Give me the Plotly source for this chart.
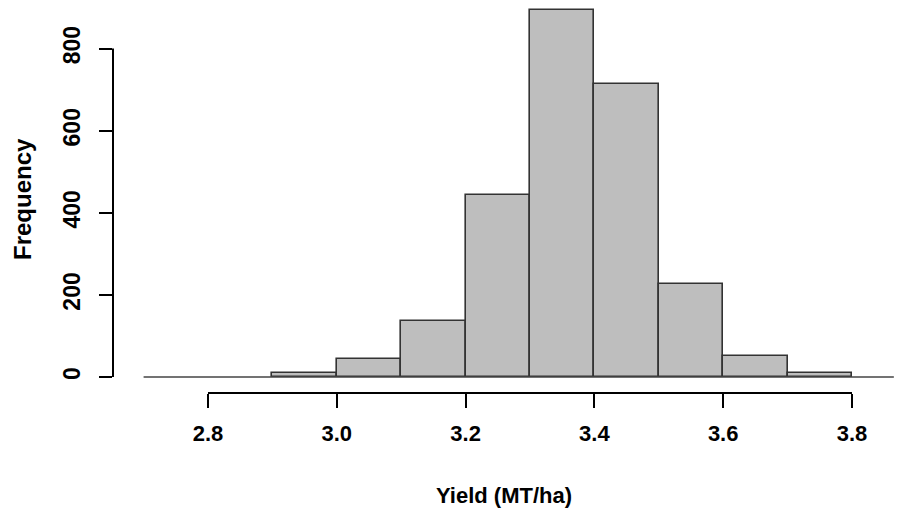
import plotly.graph_objects as go

# Data
bin_edges = [2.9, 3.0, 3.1, 3.2, 3.3, 3.4, 3.5, 3.6, 3.7, 3.8]
counts = [10, 44, 137, 443, 895, 713, 226, 51, 10]
x_ticks = [2.8, 3.0, 3.2, 3.4, 3.6, 3.8]
x_ticklabels = ["2.8", "3.0", "3.2", "3.4", "3.6", "3.8"]
y_ticks = [0, 200, 400, 600, 800]
y_ticklabels = ["0", "200", "400", "600", "800"]
baseline_x = [2.7, 3.865]

mids = [(a + b) / 2 for a, b in zip(bin_edges[:-1], bin_edges[1:])]
widths = [b - a for a, b in zip(bin_edges[:-1], bin_edges[1:])]

font_family = "Arial, Liberation Sans, sans-serif"
FS = 23

fig = go.Figure()
fig.add_trace(go.Bar(
    x=mids, y=counts, width=widths,
    marker=dict(color="#BEBEBE", line=dict(color="#333333", width=1.6)),
    hoverinfo="x+y",
))

shapes = [
    # baseline at 0
    dict(type="line", xref="x", yref="y", x0=baseline_x[0], x1=baseline_x[1], y0=0, y1=0,
         line=dict(color="#444444", width=1.5)),
    # x axis line
    dict(type="line", xref="x", yref="paper", x0=x_ticks[0], x1=x_ticks[-1], y0=0, y1=0,
         line=dict(color="black", width=2)),
    # y axis line
    dict(type="line", xref="paper", yref="y", x0=0, x1=0, y0=y_ticks[0], y1=y_ticks[-1],
         line=dict(color="black", width=2)),
]

fig.update_layout(
    width=905, height=510,
    margin=dict(l=113, r=10, t=5, b=117),
    paper_bgcolor="white", plot_bgcolor="white",
    showlegend=False,
    bargap=0,
    shapes=shapes,
    font=dict(family=font_family, size=FS, color="black"),
    annotations=[
        dict(text="<b>Yield (MT/ha)</b>", xref="paper", yref="paper", x=0.5, y=-0.263,
             xanchor="center", yanchor="middle", showarrow=False,
             font=dict(family=font_family, size=22)),
        dict(text="<b>Frequency</b>", xref="paper", yref="paper", x=-0.1164, y=0.5,
             xanchor="center", yanchor="middle", showarrow=False, textangle=-90,
             font=dict(family=font_family, size=24)),
    ],
)

fig.update_xaxes(
    range=[2.6525, 3.8668],
    tickmode="array", tickvals=x_ticks, ticktext=["<b>%s</b>" % t for t in x_ticklabels],
    ticks="outside", ticklen=14, tickwidth=2, tickcolor="black",
    ticklabelstandoff=7,
    showline=False, showgrid=False, zeroline=False,
    tickfont=dict(family=font_family, size=22),
)
fig.update_yaxes(
    range=[-39, 906.2],
    tickmode="array", tickvals=y_ticks, ticktext=["<b>%s</b>" % t for t in y_ticklabels],
    ticks="outside", ticklen=13, tickwidth=2, tickcolor="black",
    tickangle=-90, ticklabelstandoff=10,
    showline=False, showgrid=False, zeroline=False,
    tickfont=dict(family=font_family, size=FS),
)

fig.write_html("out.html", config={"displayModeBar": False},
               post_script="document.body.style.margin='0';")
